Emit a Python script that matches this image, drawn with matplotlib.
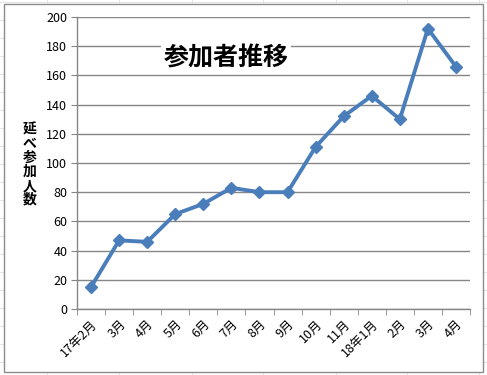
import matplotlib
matplotlib.use("Agg")
import matplotlib.pyplot as plt
from matplotlib.lines import Line2D
from matplotlib.patches import Rectangle
import numpy as np

plt.rcParams['font.family'] = ['Noto Sans CJK JP', 'DejaVu Sans']

categories = ["17年2月", "3月", "4月", "5月", "6月", "7月", "8月", "9月",
              "10月", "11月", "18年1月", "2月", "3月", "4月"]
values = [15, 47, 46, 65, 72, 83, 80, 80, 111, 132, 146, 130, 192, 166]
yticks = [0, 20, 40, 60, 80, 100, 120, 140, 160, 180, 200]
title = "参加者推移"
ylabel = "延べ参加人数"

W, H = 487, 375
fig = plt.figure(figsize=(W / 100, H / 100), dpi=100)
fig.patch.set_facecolor("white")

# faint spreadsheet cells outside the chart
for xc in [47, 119, 192, 263, 336, 407, 479]:
    fig.add_artist(Line2D([xc / W, xc / W], [0, 1], color="#e4e4e4", lw=0.8, zorder=-2))
for yr in np.arange(2, 375, 18):
    fig.add_artist(Line2D([0, 1], [1 - yr / H, 1 - yr / H], color="#e4e4e4", lw=0.8, zorder=-2))
# chart area
fig.add_artist(Rectangle((4 / W, 1 - 372 / H), (483 - 4) / W, (372 - 4) / H,
                         facecolor="white", edgecolor="#8c8c8c", lw=1.0, zorder=-1))

ax = fig.add_axes([77 / W, 1 - 309 / H, (470 - 77) / W, (309 - 17) / H])
ax.set_zorder(1)
ax.set_facecolor("none")
x = np.arange(len(categories))
ax.plot(x, values, color="#4a7ebb", lw=2.8, marker="D", markersize=6.5,
        markerfacecolor="#4a7ebb", markeredgecolor="#4a7ebb", zorder=3, clip_on=False)

ax.set_xlim(-0.5, len(categories) - 0.5)
ax.set_ylim(0, 200)
ax.set_yticks(yticks)
ax.set_yticklabels([str(v) for v in yticks], fontsize=9)
ax.yaxis.grid(True, color="#868686", lw=1.0)
ax.set_axisbelow(True)
ax.tick_params(axis="y", length=4, color="#868686", pad=3)

ax.set_xticks(x)
ax.set_xticklabels(categories, rotation=45, ha="right", rotation_mode="anchor", fontsize=9)
ax.set_xticks(np.arange(-0.5, len(categories)), minor=True)
ax.tick_params(axis="x", which="major", length=0, pad=6)
ax.tick_params(axis="x", which="minor", length=4, color="#868686")

for s in ["top", "right"]:
    ax.spines[s].set_visible(False)
for s in ["left", "bottom"]:
    ax.spines[s].set_color("#868686")
    ax.spines[s].set_linewidth(1.0)

# title with white background
fig.text(226 / W, 1 - 58 / H, title, fontsize=18, fontweight="bold", ha="center", va="center",
         bbox=dict(facecolor="white", edgecolor="none", pad=2), zorder=5)

# stacked vertical y label
fig.text(30 / W, 1 - 165 / H, "\n".join(ylabel), fontsize=10, fontweight="bold",
         ha="center", va="center", linespacing=1.0, zorder=5)

fig.savefig("out.png", dpi=100)
